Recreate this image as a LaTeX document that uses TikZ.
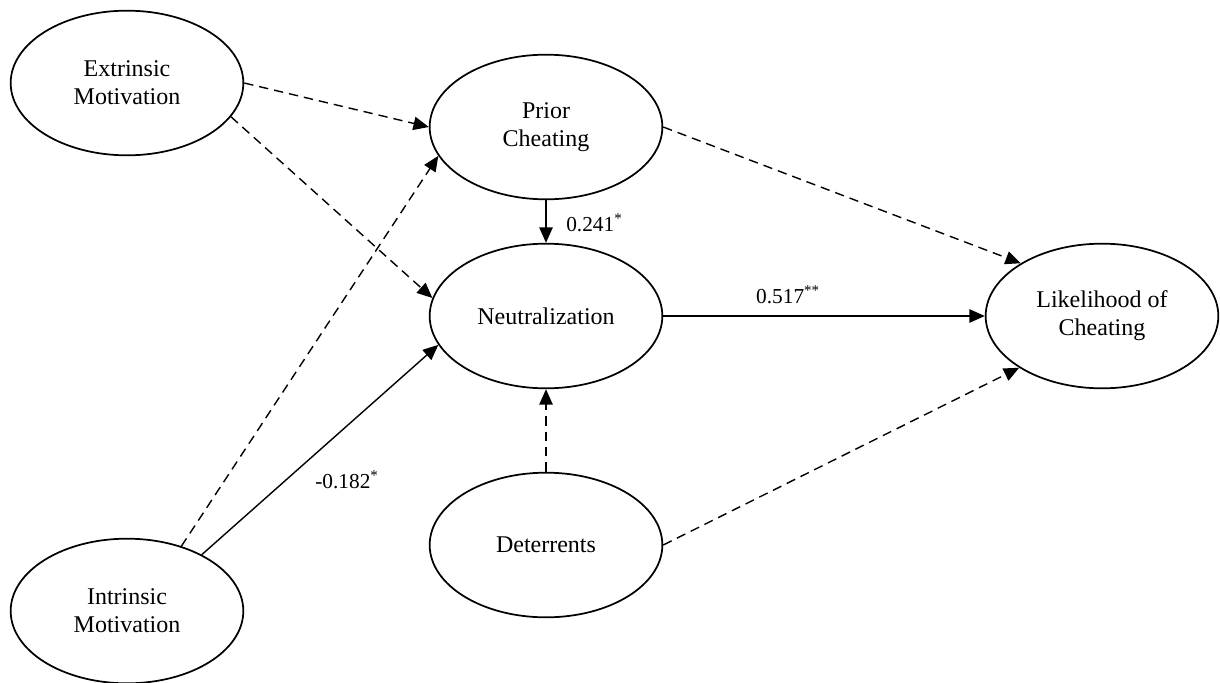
\documentclass[tikz,border=0pt]{standalone}
\usepackage{fontspec}
\setmainfont{Liberation Serif}
\usetikzlibrary{shapes.geometric,arrows.meta}
\begin{document}
\begin{tikzpicture}[x=0.75pt,y=-0.75pt,
  latent/.style={ellipse,draw,line width=1.3pt,minimum width=174.5pt,minimum height=108.5pt,inner sep=0pt,align=center,font=\fontsize{18}{21}\selectfont},
  conn/.style={line width=1.05pt,-{Triangle[length=11.5pt,width=10pt]}},
  ns/.style={conn,dash pattern=on 7pt off 4.5pt},
  coef/.style={font=\fontsize{16}{19}\selectfont,inner sep=0pt}]
\useasboundingbox (0,0) rectangle (1220,682);
\node[latent] (ext) at (127,83) {Extrinsic\\Motivation};
\node[latent] (int) at (127,611) {Intrinsic\\Motivation};
\node[latent] (pri) at (546,127) {Prior\\Cheating};
\node[latent] (neu) at (546,316) {Neutralization};
\node[latent] (det) at (546,545) {Deterrents};
\node[latent] (lik) at (1102,316) {Likelihood of\\Cheating};
% connectors
\draw[ns] (ext.east) -- (pri.west);
\draw[ns] (ext.-18.4) -- (neu.171.2);
\draw[ns] (int.50.8) -- (pri.195.8);
\draw[conn] (int.37.5) -- (neu.195.5);
\draw[conn] (pri.south) -- (neu.north);
\draw[ns] (det.north) -- (neu.south);
\draw[conn] (neu.east) -- (lik.west);
\draw[ns] (pri.east) -- (lik.147.9);
\draw[ns] (det.east) -- (lik.212.1);
% coefficients
\node[coef,anchor=west] (c1) at (566,223) {0.241\textsuperscript{*}};
\node[coef] (c2) at (788,295) {0.517\textsuperscript{**}};
\node[coef] (c3) at (347,480) {-0.182\textsuperscript{*}};
\end{tikzpicture}
\end{document}
